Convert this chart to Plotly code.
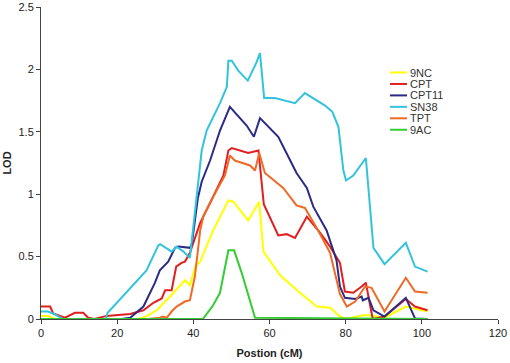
import plotly.graph_objects as go

# ---------------- data ----------------
series_names = ["9NC", "CPT", "CPT11", "SN38", "TPT", "9AC"]

nc9_x = [0, 2, 3.5, 25, 26.9, 30.4, 33.9, 36.1, 37.8, 39.1, 40.5, 41.8, 45.2, 49.2, 50.5,
         54.4, 57.3, 58.4, 62.8, 68, 72.4, 75.9, 78.5, 80, 84.6, 86, 90.2, 95.8, 101.5]
nc9_y = [0.025, 0.025, 0, 0, 0.01, 0.07, 0.18, 0.25, 0.31, 0.27, 0.42, 0.46, 0.71, 0.95, 0.94,
         0.79, 0.94, 0.54, 0.35, 0.21, 0.1, 0.09, 0.02, 0, 0.03, 0.03, 0.01, 0.1, 0.06]

cpt_x = [0, 2.4, 3.2, 6.3, 8.9, 11.1, 12.4, 14, 17.2, 19.9, 23.4, 26.9, 29.5, 31.7, 32.6,
         34.3, 35.5, 36.9, 37.8, 39.1, 41.8, 45.2, 47.9, 49.2, 50.1, 54.4, 57.1, 58.5, 62.3,
         64.5, 66.7, 69.8, 73.3, 75.9, 78.5, 79.8, 82, 84.2, 85.3, 87.1, 90.2, 95.8, 98.2, 101.5]
cpt_y = [0.1, 0.1, 0.045, 0.01, 0.05, 0.05, 0.01, 0, 0.025, 0.03, 0.04, 0.07, 0.13, 0.165, 0.23,
         0.23, 0.42, 0.45, 0.46, 0.53, 0.77, 0.98, 1.15, 1.35, 1.37, 1.33, 1.35, 0.92, 0.67,
         0.68, 0.65, 0.82, 0.69, 0.58, 0.45, 0.22, 0.21, 0.26, 0.29, 0, 0.02, 0.16, 0.1, 0.07]

cpt11_x = [0, 21.2, 23.4, 26.9, 29.9, 31.2, 33.4, 35.2, 36.1, 39.1, 39.6, 41.2, 42.2, 44.4,
           47, 49.6, 54, 55.9, 57.5, 62.3, 67.1, 69.8, 71.5, 75, 77.6, 78.5, 79.8, 82.5,
           84.2, 84.5, 86, 87.3, 90.2, 95.8, 98.2, 101.5]
cpt11_y = [0, 0, 0.01, 0.1, 0.29, 0.39, 0.46, 0.57, 0.58, 0.57, 0.6, 0.97, 1.1, 1.27,
           1.51, 1.70, 1.55, 1.46, 1.61, 1.46, 1.17, 1.05, 0.9, 0.71, 0.47, 0.26, 0.17, 0.16,
           0.18, 0.15, 0.17, 0.07, 0.02, 0.17, 0.005, 0]

sn38_x = [0, 1.8, 3.5, 5.8, 17, 17.5, 27.7, 30.8, 31.3, 34.3, 35.6, 37.4, 39.1, 42.2, 43.5,
          47, 48.8, 49.2, 50.1, 51.8, 54.3, 56.5, 57.5, 58.6, 61.4, 66.7, 69.3, 74.6, 76.5,
          78.1, 79.4, 80.1, 82, 85.3, 87.3, 90.2, 95.8, 98.2, 101.5]
sn38_y = [0.06, 0.06, 0.04, 0, 0, 0.05, 0.39, 0.59, 0.6, 0.54, 0.58, 0.54, 0.49, 1.35, 1.51,
          1.73, 1.86, 2.07, 2.07, 1.99, 1.91, 2.05, 2.13, 1.77, 1.77, 1.73, 1.81, 1.71, 1.66,
          1.54, 1.19, 1.11, 1.15, 1.29, 0.57, 0.44, 0.61, 0.42, 0.38]

tpt_x = [0, 24, 28, 31.2, 32, 33, 34.3, 35.6, 37.8, 39.1, 40.4, 41.8, 42.6, 45.2, 48.3, 49.6,
         50.9, 54.9, 56.2, 57.3, 58.8, 63.6, 67.1, 69.3, 72.4, 75.9, 78.5, 80.3, 82.5, 85.1,
         86.8, 90.2, 95.8, 98.2, 101.5]
tpt_y = [0, 0, 0, 0.01, 0.02, 0.01, 0.06, 0.1, 0.14, 0.15, 0.34, 0.71, 0.82, 0.98, 1.15, 1.31,
         1.27, 1.23, 1.19, 1.33, 1.17, 1.05, 0.91, 0.89, 0.73, 0.53, 0.2, 0.1, 0.14, 0.26,
         0.25, 0.06, 0.33, 0.22, 0.21]

ac9_x = [0, 42.5, 45.2, 47, 49.2, 50.7, 52.7, 55.3, 56.2, 101.5]
ac9_y = [0, 0, 0.11, 0.21, 0.55, 0.55, 0.37, 0.11, 0.01, 0]

x_ticks = [0, 20, 40, 60, 80, 100, 120]
y_ticks = [0, 0.5, 1, 1.5, 2, 2.5]

# ---------------- styling ----------------
colors = ["#FFFF00", "#E01F1E", "#2B2B86", "#33C3DC", "#EE6A26", "#33CC33"]
xs = [nc9_x, cpt_x, cpt11_x, sn38_x, tpt_x, ac9_x]
ys = [nc9_y, cpt_y, cpt11_y, sn38_y, tpt_y, ac9_y]

fig = go.Figure()
for name, c, x, y in zip(series_names, colors, xs, ys):
    fig.add_trace(go.Scatter(x=x, y=y, mode="lines", name=name,
                             line=dict(color=c, width=2), showlegend=False))

# compact legend (annotations + short line samples), top-right inside plot
W, H = 510, 363
ml, mr, mt, mb = 41, 12, 7, 44
pw, ph = W - ml - mr, H - mt - mb
leg_top_px, leg_step_px = 72.5, 11.45
line_x0_px, line_x1_px, text_x_px = 390, 407, 408
shapes, annotations = [], []
for i, (name, c) in enumerate(zip(series_names, colors)):
    ypx = leg_top_px + i * leg_step_px
    yp = (H - mb - ypx) / ph
    shapes.append(dict(type="line", xref="paper", yref="paper",
                       x0=(line_x0_px - ml) / pw, x1=(line_x1_px - ml) / pw,
                       y0=yp, y1=yp, line=dict(color=c, width=2)))
    annotations.append(dict(xref="paper", yref="paper", x=(text_x_px - ml) / pw, y=yp,
                            text=name, showarrow=False, xanchor="left", yanchor="middle",
                            font=dict(family="Arial, Liberation Sans", size=11, color="#333")))

fig.update_layout(
    width=W, height=H,
    margin=dict(l=ml, r=mr, t=mt, b=mb),
    paper_bgcolor="white", plot_bgcolor="white",
    font=dict(family="Arial, Liberation Sans", size=11, color="#222"),
    shapes=shapes, annotations=annotations,
    xaxis=dict(range=[0, 120], tickvals=x_ticks, showgrid=False, zeroline=False,
               showline=True, linecolor="#444", linewidth=1, ticks="outside", ticklen=4,
               tickcolor="#444", automargin=False,
               title=dict(text="<b>Postion (cM)</b>", standoff=11,
                          font=dict(size=11, color="#222"))),
    yaxis=dict(range=[0, 2.5], tickvals=y_ticks, showgrid=False, zeroline=False,
               showline=True, linecolor="#444", linewidth=1, ticks="outside", ticklen=4,
               tickcolor="#444", automargin=False,
               title=dict(text="<b>LOD</b>", standoff=4,
                          font=dict(size=11, color="#222"))),
)

fig.write_html("out.html", config={"displayModeBar": False},
               post_script="document.body.style.margin='0';")
